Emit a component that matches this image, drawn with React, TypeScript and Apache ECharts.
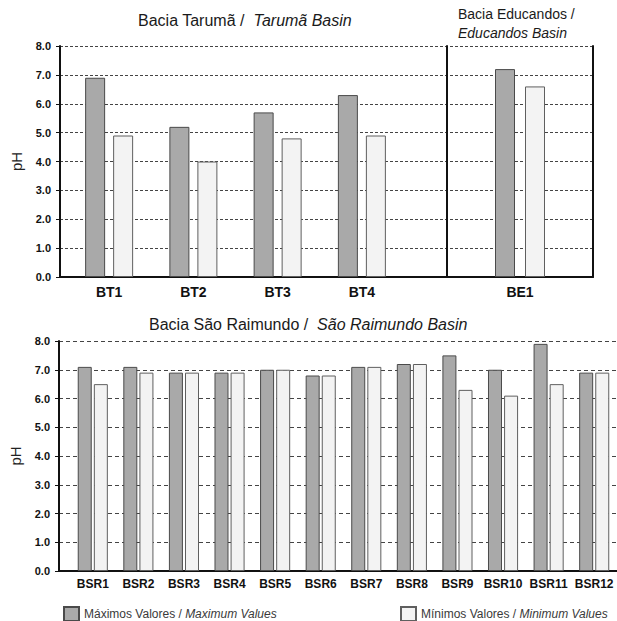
import React, { useEffect, useRef } from "react";
import * as echarts from "echarts";

// pH per sampling site, grouped by basin
const maxName = "Máximos Valores / Maximum Values";
const minName = "Mínimos Valores / Minimum Values";

const tarumaSites = ["BT1", "BT2", "BT3", "BT4"];
const tarumaMax = [6.9, 5.2, 5.7, 6.3];
const tarumaMin = [4.9, 4.0, 4.8, 4.9];

const educandosSites = ["BE1"];
const educandosMax = [7.2];
const educandosMin = [6.6];

const saoRaimundoSites = [
  "BSR1", "BSR2", "BSR3", "BSR4", "BSR5", "BSR6",
  "BSR7", "BSR8", "BSR9", "BSR10", "BSR11", "BSR12",
];
const saoRaimundoMax = [7.1, 7.1, 6.9, 6.9, 7.0, 6.8, 7.1, 7.2, 7.5, 7.0, 7.9, 6.9];
const saoRaimundoMin = [6.5, 6.9, 6.9, 6.9, 7.0, 6.8, 7.1, 7.2, 6.3, 6.1, 6.5, 6.9];

const phMin = 0;
const phMax = 8;
const phStep = 1;

const FONT = '"Liberation Sans", Arial, sans-serif';

const maxStyle = { color: "#a9a9a9", borderColor: "#4a4a4a", borderWidth: 1 };
const minStyle = { color: "#f3f3f3", borderColor: "#5f5f5f", borderWidth: 1 };

function mainYAxis(gridIndex: number, dash: number[]) {
  return {
    type: "value",
    gridIndex,
    min: phMin,
    max: phMax,
    interval: phStep,
    name: "pH",
    nameLocation: "middle",
    nameRotate: 90,
    nameGap: 36,
    nameTextStyle: { fontFamily: FONT, fontSize: 15, color: "#222" },
    axisLine: { show: true, onZero: false, lineStyle: { color: "#111", width: 2 } },
    axisTick: { show: true, length: 4, lineStyle: { color: "#111", width: 1 } },
    axisLabel: {
      margin: 9,
      fontFamily: FONT,
      fontSize: 11,
      fontWeight: "bold",
      color: "#111",
      formatter: (v: number) => v.toFixed(1),
    },
    splitLine: { show: true, lineStyle: { color: "#444", width: 1, type: dash } },
  };
}

function hiddenYAxis(gridIndex: number) {
  return {
    type: "value",
    gridIndex,
    min: phMin,
    max: phMax,
    interval: phStep,
    axisLine: { show: false },
    axisTick: { show: false },
    axisLabel: { show: false },
    splitLine: { show: false },
  };
}

function baseXAxis(gridIndex: number) {
  return {
    type: "value",
    gridIndex,
    min: 0,
    max: 1,
    axisLine: { show: true, onZero: false, lineStyle: { color: "#111", width: 2 } },
    axisTick: { show: false },
    axisLabel: { show: false },
    splitLine: { show: false },
  };
}

function siteXAxis(gridIndex: number, data: string[], fontSize: number, margin: number) {
  return {
    type: "category",
    gridIndex,
    data,
    axisLine: { show: false },
    axisTick: { show: false },
    axisLabel: {
      margin,
      fontFamily: FONT,
      fontSize,
      fontWeight: "bold",
      color: "#111",
      interval: 0,
    },
    splitLine: { show: false },
  };
}

function legendFormatter(name: string) {
  const [pt, en] = name.split(" / ");
  return `{n|${pt} / }{i|${en}}`;
}

const legendText = {
  rich: {
    n: { fontFamily: FONT, fontSize: 12, color: "#3a3a3a" },
    i: { fontFamily: FONT, fontSize: 12, color: "#3a3a3a", fontStyle: "italic" },
  },
};

export default function App() {
  const ref = useRef<HTMLDivElement>(null);

  useEffect(() => {
    if (!ref.current) return;
    const chart = echarts.init(ref.current, undefined, { renderer: "svg" });

    const titleRich = (size: number) => ({
      n: { fontFamily: FONT, fontSize: size, fontWeight: "normal", color: "#1a1a1a", lineHeight: size + 5 },
      i: {
        fontFamily: FONT, fontSize: size, fontWeight: "normal", color: "#1a1a1a",
        fontStyle: "italic", lineHeight: size + 5,
      },
    });

    chart.setOption({
      animation: false,
      backgroundColor: "#ffffff",
      title: [
        {
          text: "{n|Bacia Tarumã /  }{i|Tarumã Basin}",
          left: 138,
          top: 10,
          padding: 0,
          textStyle: { fontWeight: "normal", rich: titleRich(16) },
        },
        {
          text: "{n|Bacia Educandos /}\n{i|Educandos Basin}",
          left: 458,
          top: 4,
          padding: 0,
          textStyle: { fontWeight: "normal", rich: titleRich(14) },
        },
        {
          text: "{n|Bacia São Raimundo /  }{i|São Raimundo Basin}",
          left: 149,
          top: 314,
          padding: 0,
          textStyle: { fontWeight: "normal", rich: titleRich(16) },
        },
      ],
      legend: [
        {
          data: [maxName],
          left: 63,
          top: 606,
          padding: 0,
          itemWidth: 15,
          itemHeight: 14,
          itemGap: 7,
          icon: "rect",
          selectedMode: false,
          formatter: legendFormatter,
          textStyle: legendText,
        },
        {
          data: [minName],
          left: 400,
          top: 606,
          padding: 0,
          itemWidth: 15,
          itemHeight: 14,
          itemGap: 7,
          icon: "rect",
          selectedMode: false,
          formatter: legendFormatter,
          textStyle: legendText,
        },
      ],
      grid: [
        // top panel frame (axes, gridlines)
        { left: 60, width: 533, top: 46, height: 231 },
        // Tarumã bars
        { left: 67, width: 337, top: 46, height: 231 },
        // Educandos bars
        { left: 447, width: 146, top: 46, height: 231 },
        // bottom panel frame
        { left: 59, width: 558, top: 341, height: 230 },
        // São Raimundo bars
        { left: 70, width: 552, top: 341, height: 230 },
      ],
      xAxis: [
        baseXAxis(0),
        siteXAxis(1, tarumaSites, 14, 8),
        siteXAxis(2, educandosSites, 14, 8),
        baseXAxis(3),
        siteXAxis(4, saoRaimundoSites, 12, 7),
      ],
      yAxis: [
        mainYAxis(0, [3, 2]),
        hiddenYAxis(1),
        {
          ...hiddenYAxis(2),
          axisLine: { show: true, onZero: false, lineStyle: { color: "#111", width: 2 } },
        },
        {
          ...hiddenYAxis(2),
          position: "right",
          axisLine: { show: true, onZero: false, lineStyle: { color: "#111", width: 2 } },
        },
        mainYAxis(3, [4, 3]),
        hiddenYAxis(4),
      ],
      series: [
        {
          type: "bar", name: maxName, xAxisIndex: 1, yAxisIndex: 1,
          data: tarumaMax, barWidth: 20, barGap: "40%", itemStyle: maxStyle,
        },
        {
          type: "bar", name: minName, xAxisIndex: 1, yAxisIndex: 1,
          data: tarumaMin, barWidth: 20, barGap: "40%", itemStyle: minStyle,
        },
        {
          type: "bar", name: maxName, xAxisIndex: 2, yAxisIndex: 2,
          data: educandosMax, barWidth: 20, barGap: "50%", itemStyle: maxStyle,
        },
        {
          type: "bar", name: minName, xAxisIndex: 2, yAxisIndex: 2,
          data: educandosMin, barWidth: 20, barGap: "50%", itemStyle: minStyle,
        },
        {
          type: "bar", name: maxName, xAxisIndex: 4, yAxisIndex: 5,
          data: saoRaimundoMax, barWidth: 14, barGap: "15%", itemStyle: maxStyle,
        },
        {
          type: "bar", name: minName, xAxisIndex: 4, yAxisIndex: 5,
          data: saoRaimundoMin, barWidth: 14, barGap: "15%", itemStyle: minStyle,
        },
      ],
    });

    return () => chart.dispose();
  }, []);

  return (
    <div
      ref={ref}
      style={{ position: "absolute", left: 0, top: 0, width: 617, height: 621, background: "#fff" }}
    />
  );
}
